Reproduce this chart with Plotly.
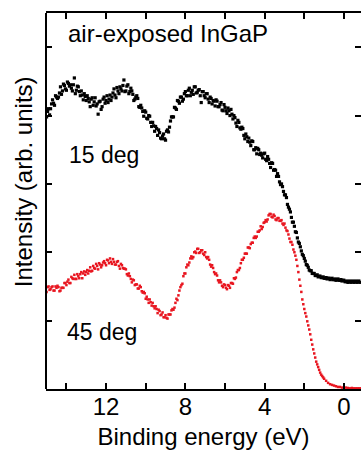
import plotly.graph_objects as go

# Sampling grids (binding energy, eV): main points every 0.1 eV from 15.0 eV,
# interleaved points every 0.1 eV from 14.95 eV
E_START_A = 15.0
E_START_B = 14.95
E_STEP = 0.1

# 15 deg spectrum (black)
int_15deg_a = [
    3.98, 4.10, 4.10, 4.23, 4.15, 4.27, 4.27, 4.42, 4.36, 4.44,
    4.37, 4.47, 4.45, 4.36, 4.55, 4.37, 4.42, 4.29, 4.30, 4.32,
    4.22, 4.25, 4.13, 4.26, 4.20, 4.14, 4.02, 4.21, 4.13, 4.27,
    4.22, 4.19, 4.30, 4.27, 4.39, 4.26, 4.36, 4.42, 4.36, 4.52,
    4.36, 4.45, 4.35, 4.36, 4.22, 4.27, 4.25, 4.12, 4.11, 3.99,
    4.05, 3.95, 3.99, 3.84, 3.85, 3.84, 3.71, 3.75, 3.66, 3.73,
    3.64, 3.79, 3.83, 3.98, 3.98, 4.11, 4.22, 4.18, 4.27, 4.24,
    4.35, 4.29, 4.40, 4.34, 4.31, 4.42, 4.34, 4.38, 4.19, 4.35,
    4.26, 4.32, 4.19, 4.25, 4.22, 4.14, 4.21, 4.13, 4.19, 4.07,
    4.12, 4.03, 4.07, 4.09, 3.95, 3.97, 3.84, 3.90, 3.80, 3.81,
    3.66, 3.69, 3.67, 3.56, 3.62, 3.50, 3.44, 3.50, 3.45, 3.38,
    3.45, 3.34, 3.36, 3.24, 3.30, 3.21, 3.11, 3.11, 2.99, 2.96,
    2.84, 2.80, 2.66, 2.59, 2.44, 2.38, 2.29, 2.15, 2.08, 1.97,
    1.91, 1.82, 1.78, 1.73, 1.69, 1.69, 1.66, 1.64, 1.65, 1.63,
    1.62, 1.63, 1.62, 1.60, 1.62, 1.60, 1.59, 1.61, 1.59, 1.58,
    1.59, 1.57, 1.56, 1.58, 1.57, 1.56, 1.58, 1.57, 1.56,
]
int_15deg_b = [
    4.06, 4.01, 4.17, 4.18, 4.29, 4.25, 4.33, 4.31, 4.46, 4.39,
    4.49, 4.43, 4.40, 4.45, 4.32, 4.43, 4.35, 4.36, 4.23, 4.28,
    4.29, 4.20, 4.24, 4.15, 4.26, 4.17, 4.20, 4.09, 4.24, 4.18,
    4.29, 4.24, 4.22, 4.33, 4.30, 4.41, 4.32, 4.39, 4.44, 4.35,
    4.43, 4.32, 4.40, 4.31, 4.24, 4.29, 4.13, 4.15, 4.06, 4.07,
    3.96, 4.00, 3.90, 3.90, 3.77, 3.81, 3.79, 3.67, 3.70, 3.66,
    3.77, 3.76, 3.92, 3.98, 4.12, 4.09, 4.21, 4.27, 4.21, 4.32,
    4.29, 4.37, 4.29, 4.37, 4.42, 4.33, 4.37, 4.29, 4.35, 4.29,
    4.32, 4.24, 4.27, 4.17, 4.21, 4.23, 4.13, 4.16, 4.08, 4.16,
    4.07, 4.11, 4.00, 4.02, 4.00, 3.89, 3.93, 3.82, 3.83, 3.71,
    3.73, 3.62, 3.61, 3.63, 3.50, 3.53, 3.52, 3.43, 3.42, 3.44,
    3.36, 3.40, 3.30, 3.31, 3.20, 3.20, 3.15, 3.03, 3.00, 2.89,
    2.84, 2.70, 2.63, 2.51, 2.44, 2.30, 2.21, 2.13, 2.02, 1.95,
    1.87, 1.81, 1.74, 1.73, 1.69, 1.66, 1.67, 1.65, 1.63, 1.64,
    1.62, 1.61, 1.62, 1.61, 1.60, 1.61, 1.60, 1.59, 1.60, 1.59,
    1.57, 1.58, 1.57, 1.56, 1.58, 1.57, 1.56, 1.58,
]

# 45 deg spectrum (red)
int_45deg_a = [
    1.42, 1.50, 1.46, 1.50, 1.44, 1.48, 1.49, 1.44, 1.48, 1.55,
    1.52, 1.60, 1.55, 1.62, 1.67, 1.61, 1.65, 1.68, 1.62, 1.72,
    1.71, 1.69, 1.78, 1.73, 1.77, 1.83, 1.75, 1.82, 1.81, 1.87,
    1.81, 1.88, 1.91, 1.83, 1.86, 1.82, 1.87, 1.76, 1.81, 1.76,
    1.75, 1.66, 1.65, 1.56, 1.59, 1.53, 1.47, 1.51, 1.43, 1.42,
    1.32, 1.31, 1.31, 1.22, 1.21, 1.21, 1.11, 1.14, 1.09, 1.05,
    1.08, 1.03, 1.09, 1.15, 1.16, 1.26, 1.30, 1.44, 1.52, 1.65,
    1.69, 1.82, 1.85, 1.94, 1.93, 2.01, 2.05, 1.99, 2.03, 1.98,
    2.00, 1.91, 1.89, 1.79, 1.77, 1.68, 1.66, 1.56, 1.56, 1.49,
    1.52, 1.46, 1.51, 1.55, 1.54, 1.61, 1.71, 1.74, 1.84, 1.89,
    1.98, 1.98, 2.07, 2.12, 2.14, 2.23, 2.23, 2.30, 2.38, 2.37,
    2.44, 2.45, 2.54, 2.56, 2.51, 2.53, 2.47, 2.50, 2.46, 2.42,
    2.42, 2.32, 2.26, 2.15, 2.11, 2.00, 1.89, 1.71, 1.51, 1.31,
    1.17, 1.06, 0.93, 0.80, 0.65, 0.52, 0.40, 0.32, 0.24, 0.19,
    0.15, 0.12, 0.09, 0.07, 0.06, 0.05, 0.04, 0.03, 0.03, 0.02,
    0.02, 0.02, 0.015, 0.01, 0.015, 0.01, 0.01, 0.01, 0.01,
]
int_45deg_b = [
    1.49, 1.45, 1.49, 1.44, 1.50, 1.51, 1.43, 1.48, 1.48, 1.55,
    1.57, 1.55, 1.64, 1.61, 1.61, 1.68, 1.62, 1.71, 1.69, 1.67,
    1.74, 1.73, 1.72, 1.80, 1.76, 1.80, 1.84, 1.78, 1.85, 1.84,
    1.89, 1.84, 1.86, 1.90, 1.82, 1.86, 1.80, 1.83, 1.77, 1.76,
    1.68, 1.69, 1.61, 1.60, 1.52, 1.53, 1.47, 1.49, 1.41, 1.40,
    1.35, 1.26, 1.27, 1.26, 1.18, 1.17, 1.16, 1.08, 1.12, 1.05,
    1.04, 1.09, 1.09, 1.17, 1.19, 1.32, 1.37, 1.49, 1.54, 1.69,
    1.78, 1.81, 1.91, 1.91, 2.00, 1.99, 2.05, 2.00, 2.03, 1.96,
    1.93, 1.93, 1.82, 1.81, 1.71, 1.69, 1.59, 1.59, 1.51, 1.53,
    1.48, 1.52, 1.48, 1.55, 1.62, 1.63, 1.74, 1.77, 1.89, 1.92,
    1.98, 2.07, 2.06, 2.14, 2.21, 2.21, 2.30, 2.32, 2.34, 2.43,
    2.47, 2.48, 2.56, 2.52, 2.55, 2.48, 2.50, 2.46, 2.47, 2.40,
    2.36, 2.31, 2.20, 2.15, 2.04, 1.95, 1.80, 1.60, 1.42, 1.24,
    1.11, 0.99, 0.87, 0.72, 0.58, 0.46, 0.36, 0.28, 0.21, 0.17,
]

energy_15a = [round(E_START_A - E_STEP * i, 2) for i in range(len(int_15deg_a))]
energy_15b = [round(E_START_B - E_STEP * i, 2) for i in range(len(int_15deg_b))]
energy_45a = [round(E_START_A - E_STEP * i, 2) for i in range(len(int_45deg_a))]
energy_45b = [round(E_START_B - E_STEP * i, 2) for i in range(len(int_45deg_b))]

x_tickvals = [14, 12, 10, 8, 6, 4, 2, 0]
x_ticktext = ["", "12", "", "8", "", "4", "", "0"]
y_tickvals = [1, 2, 3, 4, 5]

FONT = "Liberation Sans, Arial, sans-serif"
RED = "rgb(232,22,32)"

fig = go.Figure()
fig.add_trace(go.Scatter(
    x=energy_45a + energy_45b, y=int_45deg_a + int_45deg_b, mode="markers", name="45 deg",
    marker=dict(symbol="square", size=2.5, color=RED, line=dict(width=0)),
))
fig.add_trace(go.Scatter(
    x=energy_15a + energy_15b, y=int_15deg_a + int_15deg_b, mode="markers", name="15 deg",
    marker=dict(symbol="square", size=3.2, color="black", line=dict(width=0)),
))

fig.update_layout(
    width=361, height=455,
    margin=dict(l=46, r=0, t=13, b=66),
    paper_bgcolor="white", plot_bgcolor="white",
    showlegend=False,
    font=dict(family=FONT, size=24, color="black"),
    xaxis=dict(
        range=[15.03, -0.86], tickvals=x_tickvals, ticktext=x_ticktext,
        ticks="inside", ticklen=6, tickwidth=1.5, tickcolor="black",
        showline=True, linewidth=2, linecolor="black", mirror="ticks",
        showgrid=False, zeroline=False,
        tickfont=dict(size=24), ticklabelstandoff=-5,
        title=dict(text="Binding energy (eV)", font=dict(size=24), standoff=9),
    ),
    yaxis=dict(
        range=[0, 5.5], tickvals=y_tickvals, showticklabels=False,
        ticks="inside", ticklen=6, tickwidth=1.5, tickcolor="black",
        showline=False, mirror="ticks",
        showgrid=False, zeroline=False,
    ),
    shapes=[dict(type="line", xref="paper", yref="paper", x0=0, x1=0, y0=0, y1=1,
                 line=dict(color="black", width=2))],
    annotations=[
        dict(text="Intensity (arb. units)", xref="paper", yref="paper",
             x=-0.073, y=0.55, xanchor="center", yanchor="middle", textangle=-90,
             showarrow=False, font=dict(size=24)),
        dict(text="air-exposed InGaP", xref="paper", yref="paper",
             x=0.0635, y=0.945, xanchor="left", yanchor="middle",
             showarrow=False, font=dict(size=24)),
        dict(text="15 deg", xref="paper", yref="paper",
             x=0.067, y=0.622, xanchor="left", yanchor="middle",
             showarrow=False, font=dict(size=23)),
        dict(text="45 deg", xref="paper", yref="paper",
             x=0.06, y=0.152, xanchor="left", yanchor="middle",
             showarrow=False, font=dict(size=23)),
    ],
)

fig.write_html(
    "out.html",
    config={"displayModeBar": False},
    post_script="document.body.style.margin='0';document.body.style.overflow='hidden';",
)
